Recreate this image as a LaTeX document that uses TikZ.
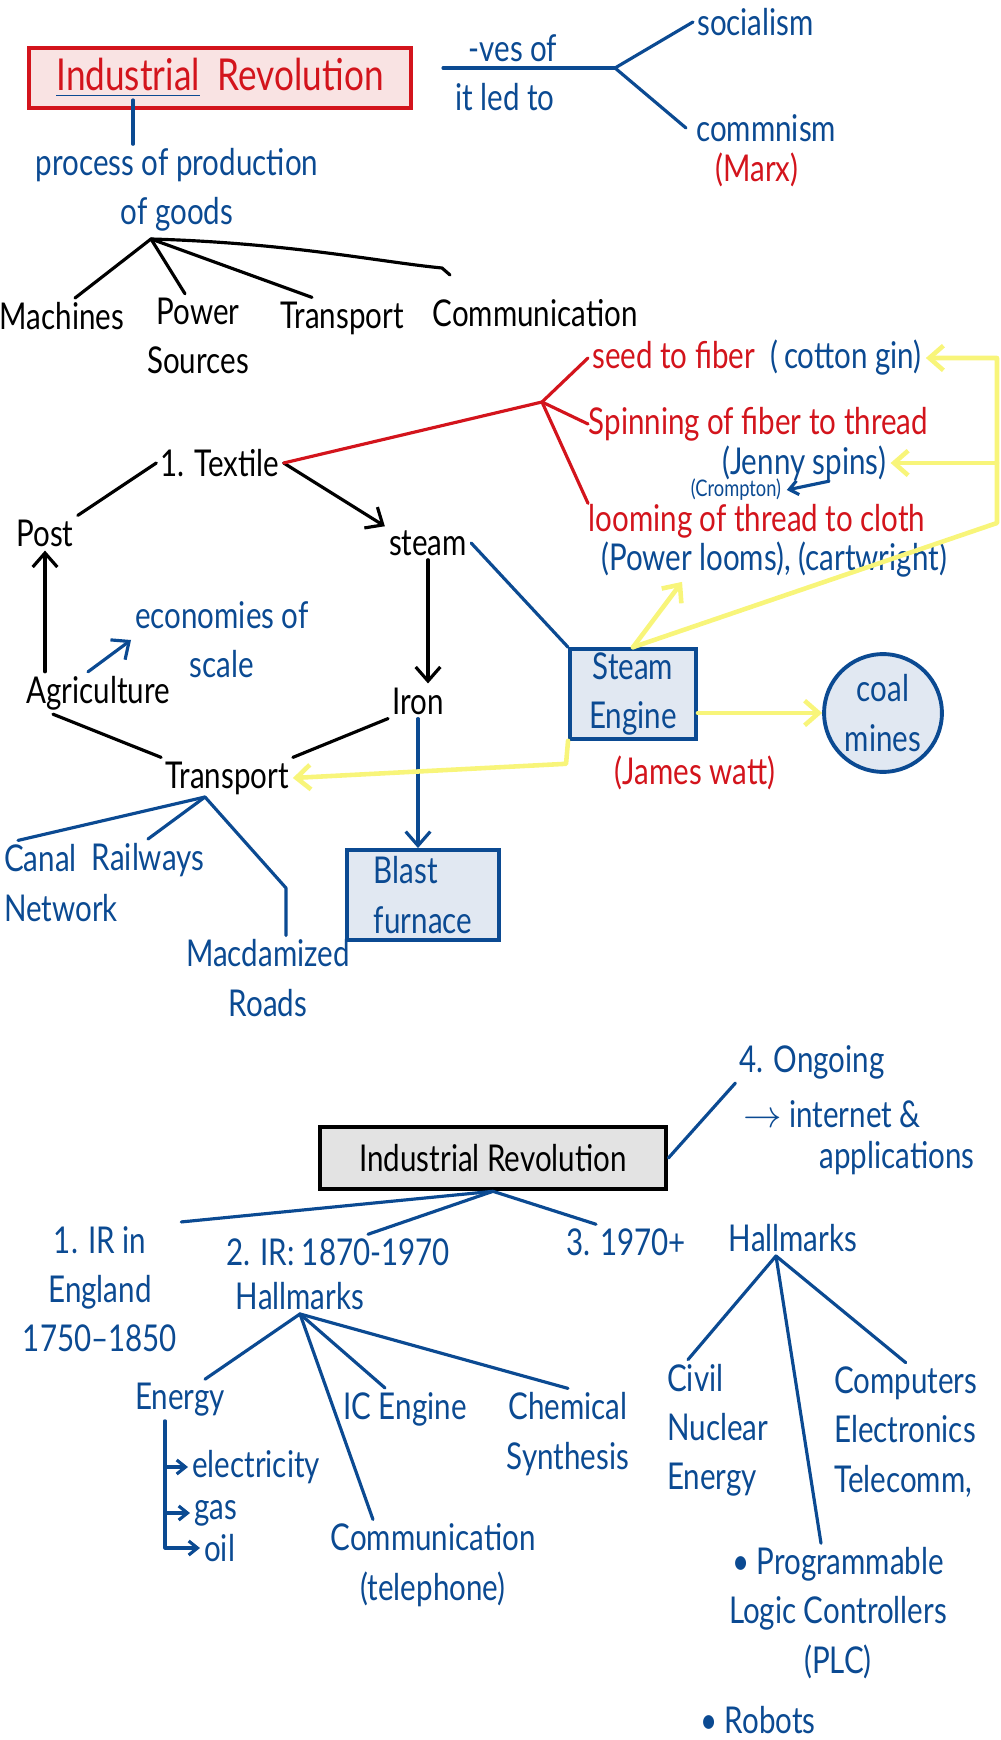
\documentclass[tikz,border=0pt]{standalone}
\usepackage{fontspec}
\setmainfont{Lato}[FakeStretch=0.8]
\usetikzlibrary{arrows.meta}
\definecolor{inkblue}{HTML}{0B4A92}
\definecolor{inkred}{HTML}{D3141C}
\definecolor{inkyellow}{HTML}{F8F57A}
\definecolor{boxpink}{HTML}{F9E3E3}
\definecolor{boxblue}{HTML}{E1E8F2}
\definecolor{boxgray}{HTML}{E3E3E3}
\tikzset{
  mmtext/.style={inner sep=1pt, align=center,
                 font={\fontsize{10.5}{14}\selectfont}},
  mmblack/.style={mmtext, text=black},
  mmblue/.style={mmtext, text=inkblue},
  mmred/.style={mmtext, text=inkred},
  mmsmall/.style={mmblue, inner sep=0pt, font={\fontsize{6.5}{7}\selectfont}},
  mmtitle/.style={mmred, draw=inkred, fill=boxpink, line width=1.1pt,
                  font={\fontsize{12.5}{14}\selectfont}},
  mmbluebox/.style={mmblue, draw=inkblue, fill=boxblue, line width=1.1pt},
  mmcircle/.style={mmblue, circle, draw=inkblue, fill=boxblue, line width=1.1pt},
  mmgraybox/.style={mmblack, draw=black, fill=boxgray, line width=1.3pt},
  mmlink/.style={draw=black, line width=0.9pt, line cap=round, line join=round},
  mmblueline/.style={mmlink, draw=inkblue},
  mmredline/.style={mmlink, draw=inkred},
  mmyellow/.style={mmlink, draw=inkyellow, line width=1.3pt},
  mmtip/.style={-{Straight Barb[length=4pt,width=7pt]}}
}

\begin{document}
\begin{tikzpicture}[x=0.01cm, y=-0.01cm]
  \useasboundingbox (0,0) rectangle (1000,1740);
  % top part
  \node[mmtitle, minimum width=3.81cm, minimum height=0.6cm] (irtop) at (220,78)
    {{\color{inkblue}\underline{\color{inkred}Industrial}}\ \ Revolution};
  \node[mmblue] (process) at (177,190) {process of production\\of goods};
  \coordinate (ulfoot) at (133,100);
  \draw[mmblueline] (ulfoot) -- (ulfoot |- process.north);
  \coordinate (goodshub) at (151,239);
  \node[mmblack] (machines) at (62,316) {Machines};
  \node[mmblack] (power) at (198,336) {Power\\Sources};
  \node[mmblack] (transport) at (342,318) {Transport};
  \node[mmblack] (communication) at (535,313) {Communication};
  \coordinate (commhook) at (442,268);
  \draw[mmlink] (goodshub) -- ([xshift=0.13cm]machines.north);
  \draw[mmlink] (goodshub) -- ([xshift=-0.13cm]power.north);
  \draw[mmlink] (goodshub) -- ([xshift=-0.3cm]transport.north);
  \draw[mmlink] (goodshub) .. controls (290,243) and (380,262) .. (commhook) -- ++(8,7);
  \node[mmblue] (negatives) at (513,48) {-ves of};
  \node[mmblue] (ledto) at (505,97) {it led to};
  \coordinate (ledstart) at (443,68);
  \coordinate (ledsplit) at (615,68);
  \node[mmblue, anchor=west] (socialism) at (693,22) {socialism};
  \node[mmblue, anchor=west] (communism) at (692,128) {commnism};
  \node[mmred] (marx) at (757,170) {(Marx)};
  \draw[mmblueline] (ledstart) -- (ledsplit);
  \draw[mmblueline] (ledsplit) -- (socialism.west);
  \draw[mmblueline] (ledsplit) -- ([xshift=-0.06cm]communism.west);

  % middle part
  \node[mmblack] (textile) at (220,463) {1. Textile};
  \node[mmblack] (post) at (45,533) {Post};
  \node[mmblack] (steam) at (428,543) {steam};
  \node[mmblack] (iron) at (418,701) {Iron};
  \node[mmblack] (agriculture) at (98,693) {Agriculture};
  \node[mmblue] (economies) at (222,640) {economies of\\scale};
  \node[mmblack] (transportb) at (227,778) {Transport};
  \draw[mmlink] (textile.west) -- (post.north east);
  \draw[mmlink, mmtip] (textile.east) -- (steam.north west);
  \draw[mmlink, mmtip] (agriculture.north -| post) -- (post.south);
  \draw[mmlink, mmtip] (steam.south) -- (steam.south |- iron.north);
  \draw[mmblueline, mmtip] ([xshift=-0.1cm]agriculture.north) -- (economies.west);
  \draw[mmlink] ([xshift=-0.45cm]agriculture.south) -- (transportb.north west);
  \draw[mmlink] (iron.south west) -- (transportb.north east);

  \coordinate (texthub) at (542,402);
  \node[mmred, anchor=west] (seed) at (588,358)
    {seed to fiber\ \ \textcolor{inkblue}{(\,cotton gin)}};
  \node[mmred, anchor=west, inner sep=0pt] (spinning) at (588,424) {Spinning of fiber to thread};
  \node[mmblue, inner sep=0pt] (jenny) at (804,463) {(Jenny spins)};
  \node[mmsmall] (crompton) at (736,490) {(Crompton)};
  \node[mmred, anchor=west, inner sep=0pt] (looming) at (588,521) {looming of thread to cloth};
  \node[mmblue, anchor=west] (looms) at (597,560) {(Power looms), (cartwright)};
  \draw[mmredline] (textile.east) -- (texthub);
  \draw[mmredline] (texthub) -- (seed.west);
  \draw[mmredline] (texthub) -- (spinning.west);
  \draw[mmredline] (texthub) -- (looming.north west);
  \draw[mmblueline, -{Straight Barb[length=2.5pt,width=4pt]}]
    ([xshift=0.25cm]jenny.south) -- ([xshift=0.05cm]crompton.east);

  \node[mmbluebox, minimum width=1.26cm, minimum height=0.87cm] (engine) at (633,694)
    {Steam\\Engine};
  \node[mmred] (watt) at (695,773) {(James watt)};
  \node[mmcircle, minimum size=1.1cm] (coal) at (883,713) {coal\\mines};
  \node[mmbluebox, minimum width=1.52cm, minimum height=0.9cm, align=left] (blast)
    at (423,895) {Blast\\furnace};
  \draw[mmblueline] (steam.east) -- (engine.north west);
  \draw[mmblueline, mmtip] (iron.south) -- (iron.south |- blast.north);

  \coordinate (railbot) at (997,523);
  \draw[mmyellow, mmtip] (engine.north) -- (railbot) |- (seed.east);
  \draw[mmyellow, mmtip] (railbot |- jenny.east) -- ([xshift=0.04cm]jenny.east);
  \draw[mmyellow, mmtip] (engine.north) -- ([xshift=0.85cm]looms.south west);
  \draw[mmyellow, mmtip] (engine.east |- coal) -- (coal.west);
  \draw[mmyellow, mmtip] (engine.south west) -- ++(-2,23) -- (transportb.east);

  \node[mmblue, anchor=west, align=left] (canal) at (0,883) {Canal\\Network};
  \node[mmblue] (railways) at (148,860) {Railways};
  \node[mmblue] (macadam) at (268,978) {Macdamized\\Roads};
  \coordinate (transhub) at (205,797);
  \coordinate (macbend) at (286,888);
  \draw[mmblueline] (transhub) -- ([xshift=0.18cm]canal.north west);
  \draw[mmblueline] (transhub) -- (railways.north);
  \draw[mmblueline] (transhub) -- (macbend) -- (macbend |- macadam.north);

  % bottom part
  \node[mmgraybox, minimum width=3.46cm, minimum height=0.62cm] (irbot) at (493,1158)
    {Industrial Revolution};
  \node[mmblue] (irone) at (100,1289) {1. IR in\\England\\1750–1850};
  \node[mmblue] (irtwo) at (338,1252) {2. IR: 1870-1970};
  \node[mmblue] (halltwo) at (300,1296) {Hallmarks};
  \node[mmblue] (irthree) at (626,1242) {3. 1970+};
  \node[mmblue] (hallthree) at (793,1238) {Hallmarks};
  \node[mmblue] (ongoing) at (812,1062) {4. Ongoing};
  \node[mmblue] (internet) at (832,1114) {$\to$ internet \&};
  \node[mmblue] (apps) at (897,1158) {applications};
  \draw[mmblueline] (irbot.south) -- (irone.north east);
  \draw[mmblueline] (irbot.south) -- ([xshift=0.3cm]irtwo.north);
  \draw[mmblueline] (irbot.south) -- ([xshift=-0.3cm]irthree.north);
  \draw[mmblueline] (irbot.east) -- (ongoing.south west);

  \node[mmblue] (energy) at (180,1400) {Energy};
  \node[mmblue, anchor=west] (electricity) at (188,1467) {electricity};
  \node[mmblue, anchor=west] (gas) at (190,1513) {gas};
  \node[mmblue, anchor=west] (oil) at (200,1548) {oil};
  \node[mmblue] (icengine) at (405,1409) {IC Engine};
  \node[mmblue] (chemical) at (568,1434) {Chemical\\Synthesis};
  \node[mmblue] (commtwo) at (433,1565) {Communication\\(telephone)};
  \draw[mmblueline] (halltwo.south) -- ([xshift=0.25cm]energy.north);
  \draw[mmblueline] (halltwo.south) -- ([xshift=-0.2cm]icengine.north);
  \draw[mmblueline] (halltwo.south) -- (chemical.north);
  \draw[mmblueline] (halltwo.south) -- ([xshift=-0.6cm]commtwo.north);
  \coordinate (enrail) at ([xshift=-0.15cm]energy.south);
  \draw[mmblueline, -{Straight Barb[length=2.5pt,width=4pt]}] (enrail) |- (oil.west);
  \foreach \item in {electricity, gas} {
    \draw[mmblueline, -{Straight Barb[length=2.5pt,width=4pt]}]
      (enrail |- \item.west) -- (\item.west);
  }

  \node[mmblue, anchor=west, align=left] (civil) at (663,1430) {Civil\\Nuclear\\Energy};
  \node[mmblue, anchor=west, align=left] (computers) at (830,1432)
    {Computers\\Electronics\\Telecomm,};
  \node[mmblue] (plc) at (838,1613) {• Programmable\\Logic Controllers\\(PLC)};
  \node[mmblue] (robots) at (758,1720) {• Robots};
  \coordinate (hallhub) at ([xshift=-0.17cm]hallthree.south);
  \draw[mmblueline] (hallhub) -- ([xshift=0.25cm]civil.north west);
  \draw[mmblueline] (hallhub) -- (computers.north);
  \draw[mmblueline] (hallhub) -- ([xshift=-0.17cm]plc.north);
\end{tikzpicture}
\end{document}
